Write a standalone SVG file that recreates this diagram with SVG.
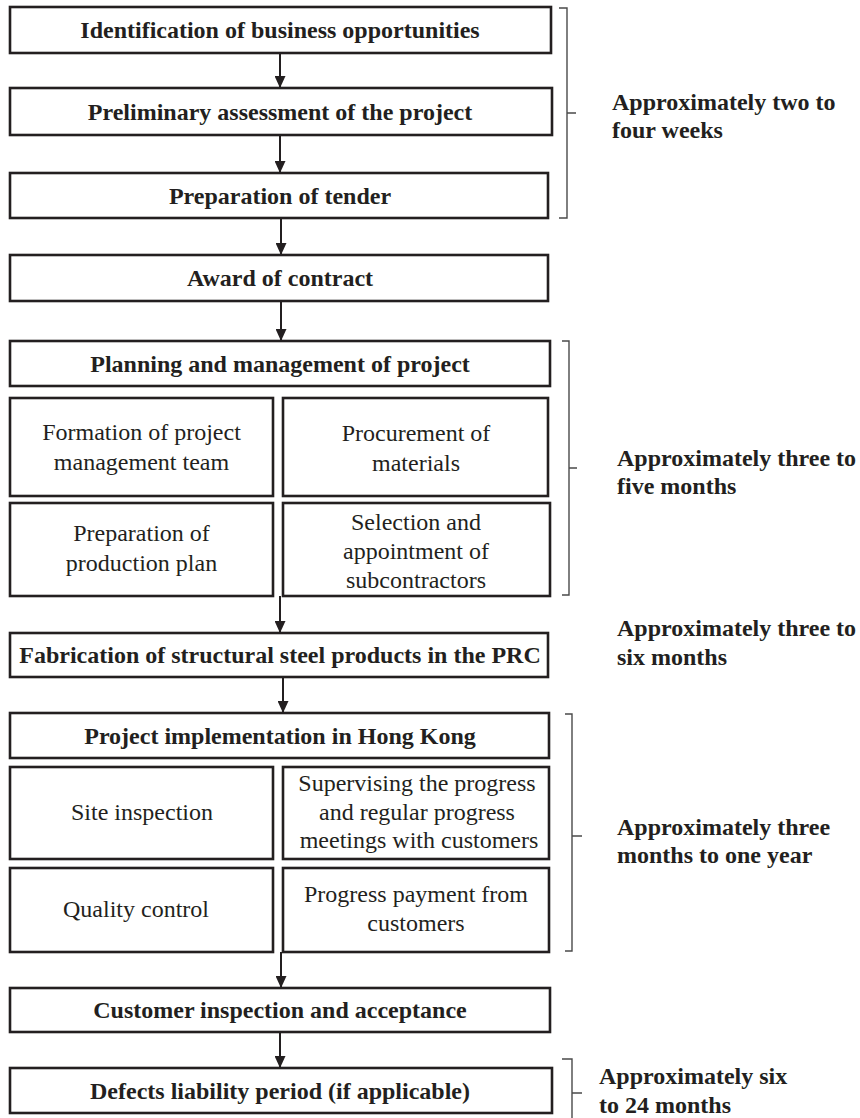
<svg xmlns="http://www.w3.org/2000/svg" width="860" height="1118" viewBox="0 0 860 1118">
<style>
.box{fill:#fff;stroke:#231f20;stroke-width:2.6}
.hd{font-family:"Liberation Serif","Times New Roman",serif;font-weight:bold;font-size:24px;fill:#231f20;text-anchor:middle}
.tx{font-family:"Liberation Serif","Times New Roman",serif;font-size:24px;fill:#231f20;text-anchor:middle}
.lb{font-family:"Liberation Serif","Times New Roman",serif;font-weight:bold;font-size:24px;fill:#231f20}
.br{fill:none;stroke:#4a4a4a;stroke-width:1.4}
.ar{fill:none;stroke:#231f20;stroke-width:2}
</style>
<defs>
<marker id="ah" markerUnits="userSpaceOnUse" markerWidth="12" markerHeight="11" refX="12" refY="5.5" orient="auto" viewBox="0 0 12 11">
<path d="M0,0 L12,5.5 L0,11 z" fill="#231f20"/>
</marker>
</defs>
<rect width="860" height="1118" fill="#fff"/>

<g id="connectors">
<line class="ar" x1="280" y1="53" x2="280" y2="88" marker-end="url(#ah)"/>
<line class="ar" x1="280" y1="135" x2="280" y2="173" marker-end="url(#ah)"/>
<line class="ar" x1="281" y1="218" x2="281" y2="255" marker-end="url(#ah)"/>
<line class="ar" x1="281" y1="301" x2="281" y2="341" marker-end="url(#ah)"/>
<line class="ar" x1="280" y1="596" x2="280" y2="633" marker-end="url(#ah)"/>
<line class="ar" x1="283" y1="677" x2="283" y2="713" marker-end="url(#ah)"/>
<line class="ar" x1="281" y1="952" x2="281" y2="988" marker-end="url(#ah)"/>
<line class="ar" x1="280" y1="1032" x2="280" y2="1068" marker-end="url(#ah)"/>
</g>

<g id="n1"><rect class="box" x="10" y="7" width="541" height="46"/><text class="hd" x="280" y="38">Identification of business opportunities</text></g>
<g id="n2"><rect class="box" x="10" y="88" width="542" height="47"/><text class="hd" x="280" y="120">Preliminary assessment of the project</text></g>
<g id="n3"><rect class="box" x="10" y="173" width="538" height="45"/><text class="hd" x="280" y="204">Preparation of tender</text></g>
<g id="n4"><rect class="box" x="10" y="255" width="538" height="46"/><text class="hd" x="280" y="286">Award of contract</text></g>
<g id="n5"><rect class="box" x="10" y="341" width="540" height="45"/><text class="hd" x="280" y="372">Planning and management of project</text></g>
<g id="n5a"><rect class="box" x="10" y="398" width="263" height="98"/><text class="tx" x="141.5" y="440">Formation of project</text><text class="tx" x="141.5" y="470">management team</text></g>
<g id="n5b"><rect class="box" x="283" y="398" width="265" height="98"/><text class="tx" x="416" y="441">Procurement of</text><text class="tx" x="416" y="471">materials</text></g>
<g id="n5c"><rect class="box" x="10" y="503" width="263" height="93"/><text class="tx" x="141.5" y="541">Preparation of</text><text class="tx" x="141.5" y="571">production plan</text></g>
<g id="n5d"><rect class="box" x="283" y="503" width="267" height="93"/><text class="tx" x="416" y="530">Selection and</text><text class="tx" x="416" y="559">appointment of</text><text class="tx" x="416" y="588">subcontractors</text></g>
<g id="n6"><rect class="box" x="10" y="633" width="538" height="44"/><text class="hd" x="280" y="663">Fabrication of structural steel products in the PRC</text></g>
<g id="n7"><rect class="box" x="10" y="713" width="539" height="45"/><text class="hd" x="280" y="744">Project implementation in Hong Kong</text></g>
<g id="n7a"><rect class="box" x="10" y="767" width="263" height="92"/><text class="tx" x="142" y="820">Site inspection</text></g>
<g id="n7b"><rect class="box" x="283" y="767" width="266" height="92"/><text class="tx" x="417" y="791">Supervising the progress</text><text class="tx" x="417" y="820">and regular progress</text><text class="tx" x="419" y="848">meetings with customers</text></g>
<g id="n7c"><rect class="box" x="10" y="868" width="263" height="84"/><text class="tx" x="136" y="917">Quality control</text></g>
<g id="n7d"><rect class="box" x="283" y="868" width="266" height="84"/><text class="tx" x="416" y="902">Progress payment from</text><text class="tx" x="416" y="931">customers</text></g>
<g id="n8"><rect class="box" x="10" y="988" width="540" height="44"/><text class="hd" x="280" y="1018">Customer inspection and acceptance</text></g>
<g id="n9"><rect class="box" x="10" y="1068" width="542" height="45"/><text class="hd" x="280" y="1099">Defects liability period (if applicable)</text></g>

<g id="brace1"><path class="br" d="M559,8 H567 V218 H559 M567,113 H576"/><text class="lb" x="612" y="110">Approximately two to</text><text class="lb" x="612" y="138">four weeks</text></g>
<g id="brace2"><path class="br" d="M562,341 H569 V595 H562 M569,468 H577"/><text class="lb" x="617" y="466">Approximately three to</text><text class="lb" x="617" y="494">five months</text></g>
<g id="label6"><text class="lb" x="617" y="636">Approximately three to</text><text class="lb" x="617" y="665">six months</text></g>
<g id="brace3"><path class="br" d="M565,714 H572 V951 H565 M572,836 H582"/><text class="lb" x="617" y="835">Approximately three</text><text class="lb" x="617" y="863">months to one year</text></g>
<g id="brace4"><path class="br" d="M562,1059 H572 V1127 M572,1093 H582"/><text class="lb" x="599" y="1084">Approximately six</text><text class="lb" x="599" y="1113">to 24 months</text></g>
</svg>
